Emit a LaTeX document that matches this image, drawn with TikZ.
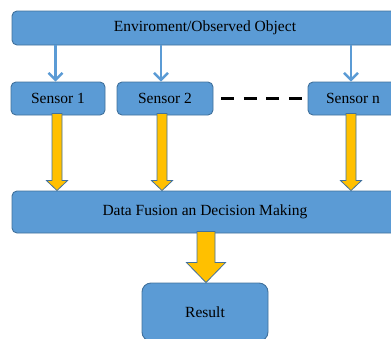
\documentclass[tikz,border=0pt]{standalone}
\usepackage{fontspec}
\setmainfont{Liberation Serif}
\usetikzlibrary{arrows.meta,calc}

\definecolor{boxfill}{HTML}{5B9BD5}
\definecolor{boxline}{HTML}{41719C}
\definecolor{flowfill}{HTML}{FFC000}

\tikzset{
  blockbox/.style={draw=boxline, line width=0.9pt, fill=boxfill, rounded corners=5pt,
    inner sep=0pt, font=\fontsize{15.5}{18}\selectfont, text=black},
  thinarrow/.style={draw=boxfill, line width=2.6pt,
    -{Straight Barb[length=7pt,width=14pt,line width=2.4pt]}},
  flowarrow/.style={draw=boxline, line width=0.8pt, fill=flowfill, line join=miter},
  sepdash/.style={draw=black, line width=3pt, dash pattern=on 13pt off 9.5pt}
}

% block arrow from point #1 down to point #2: shaft width #3, head width #4, head length #5
\newcommand{\downblock}[5]{%
  \path[flowarrow] let \p1=(#1), \p2=(#2) in
    (\x1-#3/2,\y1) -- (\x1+#3/2,\y1) -- (\x1+#3/2,\y2+#5) -- (\x1+#4/2,\y2+#5)
    -- (\x1,\y2) -- (\x1-#4/2,\y2+#5) -- (\x1-#3/2,\y2+#5) -- cycle;}

\begin{document}
\begin{tikzpicture}[x=1pt,y=-1pt]
  \useasboundingbox (0,0) rectangle (391,338);
  \clip (0,0) rectangle (391,338);

  % boxes
  \node[blockbox, minimum width=386pt, minimum height=34pt] (env) at (205,28)
    {Enviroment/Observed Object};
  \node[blockbox, minimum width=94pt, minimum height=33pt] (s1) at (58,98.5) {Sensor 1};
  \node[blockbox, minimum width=96pt, minimum height=33pt] (s2) at (165,98.5) {Sensor 2};
  \node[blockbox, minimum width=90pt, minimum height=33pt] (sn) at (353,98.5) {Sensor n};
  \node[blockbox, minimum width=386pt, minimum height=42pt] (fus) at (205,212)
    {Data Fusion an Decision Making};
  \node[blockbox, rounded corners=9pt, minimum width=126pt, minimum height=58pt] (res)
    at (205,312) {Result};

  % sensing arrows from the environment to each sensor
  \coordinate (e1) at (env.south -| 55.5,0);
  \coordinate (e2) at (env.south -| 161,0);
  \coordinate (en) at (env.south -| 351,0);
  \draw[thinarrow] (e1) -- (e1 |- s1.north);
  \draw[thinarrow] (e2) -- (e2 |- s2.north);
  \draw[thinarrow] (en) -- (en |- sn.north);

  % dashes between sensor 2 and sensor n
  \draw[sepdash] ([xshift=8pt]s2.east) -- ([xshift=-6pt]sn.west);

  % data flow from the sensors into the fusion stage
  \coordinate (f1) at ([yshift=2pt]s1.south -| 57,0);
  \coordinate (f2) at ([yshift=2pt]s2.south -| 162,0);
  \coordinate (fn) at ([yshift=2pt]sn.south -| 351,0);
  \downblock{f1}{f1 |- fus.north}{10}{21}{10}
  \downblock{f2}{f2 |- fus.north}{10}{21}{10}
  \downblock{fn}{fn |- fus.north}{10}{21}{10}

  % fusion output to the result
  \coordinate (fr) at ([yshift=2pt]fus.south -| 206,0);
  \downblock{fr}{fr |- res.north}{18}{39}{20}
\end{tikzpicture}
\end{document}
